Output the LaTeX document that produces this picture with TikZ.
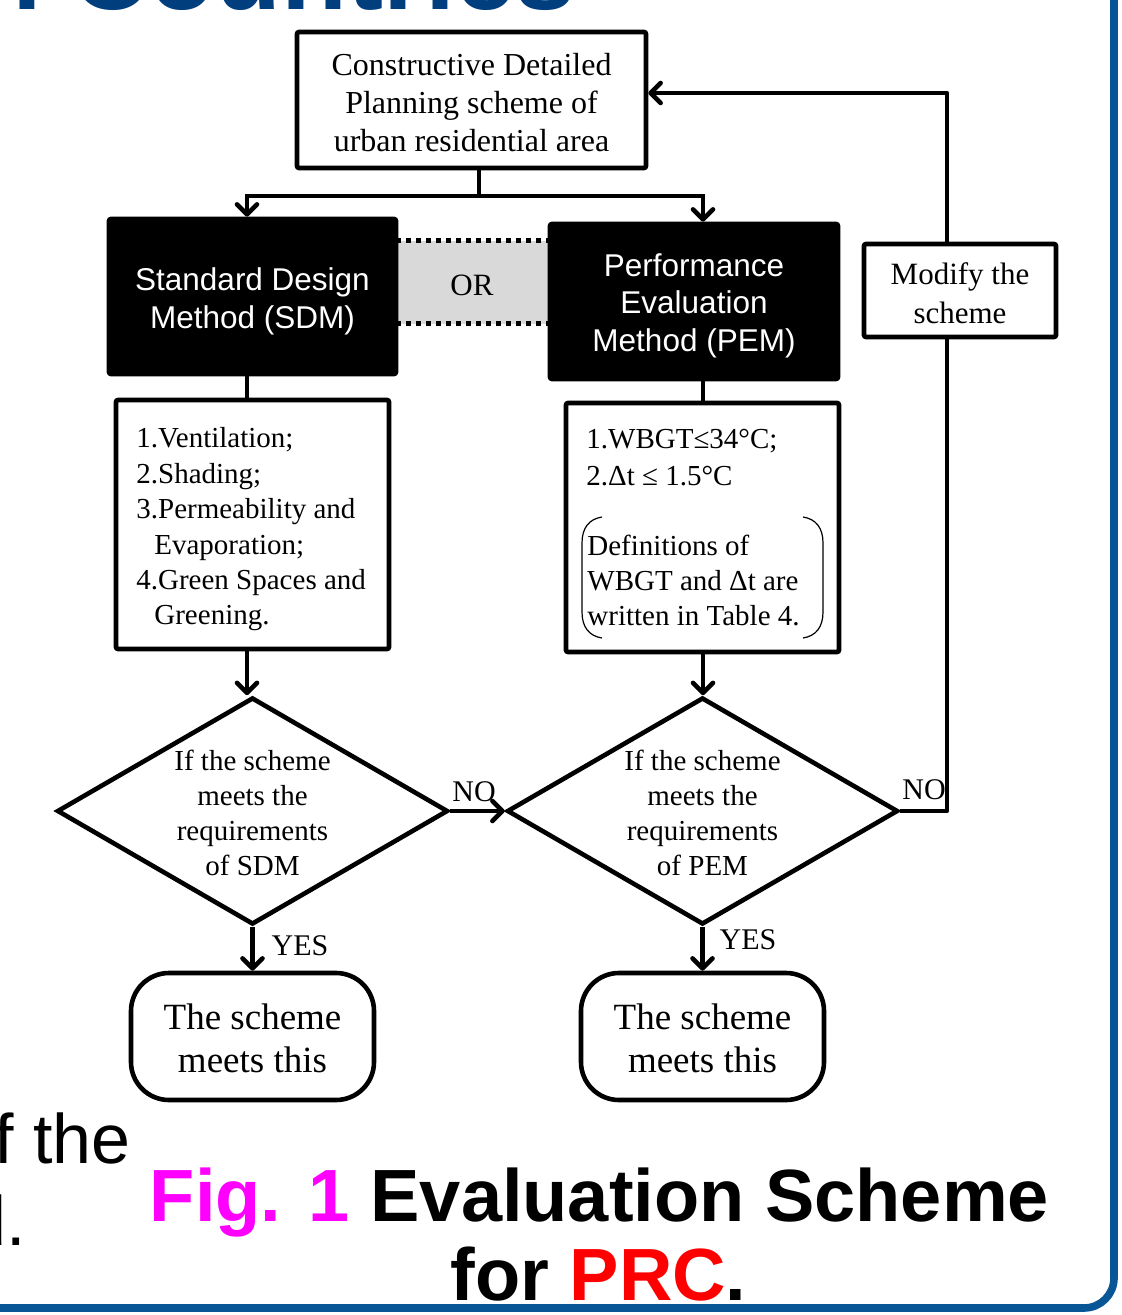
\documentclass[tikz,border=0pt]{standalone}
\usepackage{fontspec}
\setmainfont{Liberation Serif}
\newfontfamily\arialf{Liberation Sans}
\usetikzlibrary{arrows.meta,shapes.geometric}
\definecolor{frameblue}{RGB}{8,86,150}
\definecolor{titleblue}{RGB}{0,62,126}
\definecolor{orgray}{RGB}{217,217,217}
\definecolor{figmag}{RGB}{255,0,255}
\definecolor{prcred}{RGB}{255,0,0}
\tikzset{
  ln/.style={line width=2.3pt},
  box/.style={draw, ln, rectangle, rounded corners=1pt, inner sep=0pt},
  blk/.style={box, fill=black},
  blktxt/.style={text=white, align=center, inner sep=0pt,
    font=\arialf\fontsize{15.75pt}{18.75pt}\selectfont},
  diam/.style={draw, ln, shape=diamond, inner sep=0pt, minimum width=195.5pt, minimum height=113.5pt},
  term/.style={draw, ln, rectangle, rounded corners=19pt, minimum width=121.5pt, minimum height=63.5pt, inner sep=0pt},
  arr/.style={ln, -{Straight Barb[length=5pt,width=10pt,round]}},
  lst/.style={anchor=base west, inner sep=0pt, font=\fontsize{14.5pt}{17.75pt}\selectfont},
  lbl/.style={inner sep=0pt, font=\fontsize{15pt}{18pt}\selectfont},
  dtxt/.style={align=center, inner sep=0pt, font=\fontsize{14.5pt}{17.5pt}\selectfont},
  ttxt/.style={align=center, inner sep=0pt, font=\fontsize{18.5pt}{21.5pt}\selectfont},
}
\begin{document}
\begin{tikzpicture}[x=0.5pt,y=-0.5pt]
\useasboundingbox (0,0) rectangle (1121,1315);
\clip (0,0) rectangle (1121,1315);
\fill[white] (0,0) rectangle (1121,1315);

% frame and cut-off texts
\draw[frameblue, line width=3.8pt, rounded corners=15pt] (-40,1308) -- (1114,1308) -- (1114,-40);
\node[anchor=base east, inner sep=0pt, text=titleblue, font=\arialf\bfseries\fontsize{54pt}{54pt}\selectfont] (title) at (576,10) {in Countries};
\node[anchor=base east, inner sep=0pt, font=\arialf\fontsize{35pt}{35pt}\selectfont] (lt1) at (131,1163) {of the};
\node[anchor=base east, inner sep=0pt, font=\arialf\fontsize{35pt}{35pt}\selectfont] (lt2) at (26,1245) {ed.};
\node[anchor=base, inner sep=0pt, font=\arialf\bfseries\fontsize{37pt}{39.5pt}\selectfont] (cap1) at (599.5,1221) {\textcolor{figmag}{Fig. 1} Evaluation Scheme};
\node[anchor=base, inner sep=0pt, font=\arialf\bfseries\fontsize{37pt}{39.5pt}\selectfont] (cap2) at (598.5,1300) {for \textcolor{prcred}{PRC}.};

% helper coordinates
\coordinate (cL) at (247,0);
\coordinate (cR) at (703,0);
\coordinate (cF) at (947,0);
\coordinate (cT) at (0,93);
\coordinate (split) at (479,196);

% nodes
\node[box, minimum width=174.5pt, minimum height=68pt] (top) at (471.5,100) {};
\node[align=center, inner sep=0pt, font=\fontsize{16pt}{19pt}\selectfont] (topt) at (471.5,103)
  {Constructive Detailed\\Planning scheme of\\urban residential area};

\fill[orgray] (396,241) rectangle (550,324);
\draw[line width=2.5pt, dash pattern=on 2.5pt off 2.5pt] (396,241) -- (550,241);
\draw[line width=2.5pt, dash pattern=on 2.5pt off 2.5pt] (396,324) -- (550,324);
\node[inner sep=0pt, font=\fontsize{15.5pt}{18pt}\selectfont] (or) at (472,285) {OR};

\node[blk, minimum width=143.5pt, minimum height=77.5pt] (sdm) at (252.5,296.5) {};
\node[blktxt] (sdmt) at (252.5,301.5) {Standard Design\\Method (SDM)};
\node[blk, minimum width=144pt, minimum height=77.5pt] (pem) at (694,301.5) {};
\node[blktxt] (pemt) at (694,305.5) {Performance\\Evaluation\\Method (PEM)};
\node[box, minimum width=96pt, minimum height=46.5pt] (mod) at (960,290.5) {};
\node[align=center, inner sep=0pt, font=\fontsize{15.5pt}{19.5pt}\selectfont] (modt) at (960,293) {Modify the\\scheme};

\node[box, minimum width=136.5pt, minimum height=124.5pt] (l1) at (252.5,524.5) {};
\node[box, minimum width=136.5pt, minimum height=124.5pt] (l2) at (702.5,527.5) {};

\node[lst] (s1) at (136,447) {1.Ventilation;};
\node[lst] (s2) at (136,483) {2.Shading;};
\node[lst] (s3) at (136,518) {3.Permeability and};
\node[lst] (s4) at (154,554) {Evaporation;};
\node[lst] (s5) at (136,589) {4.Green Spaces and};
\node[lst] (s6) at (154,624) {Greening.};

\node[lst] (p1) at (586,449) {1.WBGT≤34°C;};
\node[lst] (p2) at (586,485) {2.Δt ≤ 1.5°C};
\node[lst] (p3) at (587,555) {Definitions of};
\node[lst] (p4) at (587,590) {WBGT and Δt are};
\node[lst] (p5) at (587,625) {written in Table 4.};
\draw[line width=0.6pt] (602,517) .. controls (589,519) and (582,528) .. (582,543) -- (582,612) .. controls (582,627) and (589,636) .. (602,638);
\draw[line width=0.6pt] (803,517) .. controls (816,519) and (823,528) .. (823,543) -- (823,612) .. controls (823,627) and (816,636) .. (803,638);

\node[diam] (d1) at (252.5,811) {};
\node[diam] (d2) at (702.5,811) {};
\node[dtxt] (d1t) at (252.5,812.5) {If the scheme\\meets the\\requirements\\of SDM};
\node[dtxt] (d2t) at (702.5,812.5) {If the scheme\\meets the\\requirements\\of PEM};

\node[term] (t1) at (252.5,1036.5) {};
\node[term] (t2) at (702.5,1036.5) {};
\node[ttxt] (t1t) at (252.5,1038.5) {The scheme\\meets this};
\node[ttxt] (t2t) at (702.5,1038.5) {The scheme\\meets this};

% connectors
\draw[ln] (split |- top.south) -- (split);
\draw[arr] (split) -| (cL |- sdm.north);
\draw[arr] (split) -| (cR |- pem.north);
\draw[ln] (cL |- sdm.south) -- (cL |- l1.north);
\draw[ln] (cR |- pem.south) -- (cR |- l2.north);
\draw[arr] (cL |- l1.south) -- (cL |- d1.north);
\draw[arr] (cR |- l2.south) -- (cR |- d2.north);
\draw[arr] (d1.east) -- (d2.west);
\draw[arr] (d1.south) -- (t1.north);
\draw[arr] (d2.south) -- (t2.north);
\draw[ln, line join=round] (d2.east) -| (cF |- mod.south);
\draw[arr, line join=round] (cF |- mod.north) |- (top.east |- cT);

\node[lbl] (no1) at (474,792) {NO};
\node[lbl] (no2) at (924,790) {NO};
\node[lbl] (yes1) at (300,946) {YES};
\node[lbl] (yes2) at (748,940) {YES};
\end{tikzpicture}
\end{document}
